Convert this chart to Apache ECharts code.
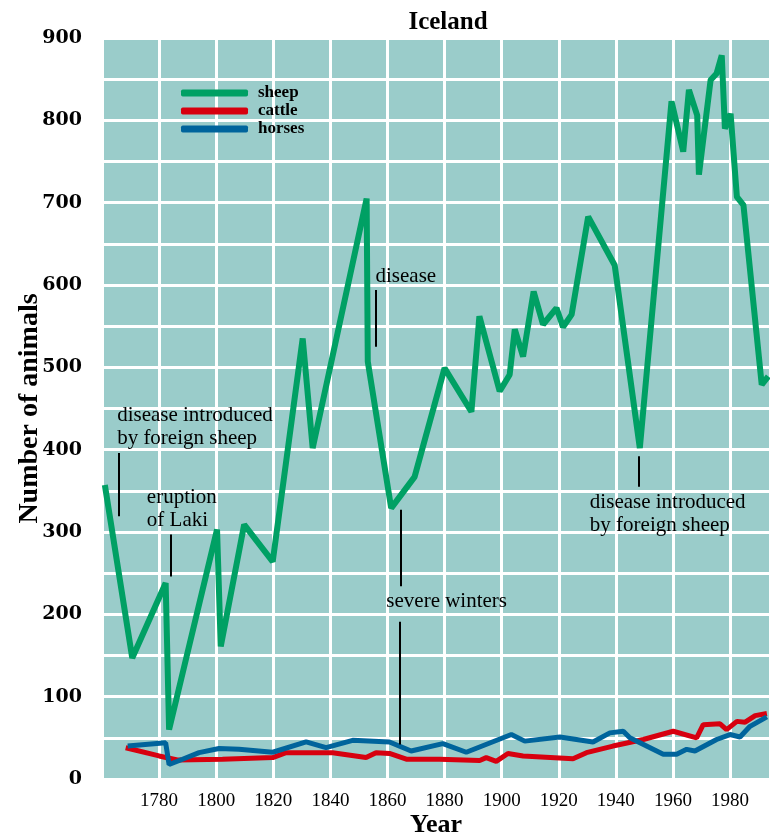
<!DOCTYPE html>
<html>
<head>
<meta charset="utf-8">
<script src="https://cdn.jsdelivr.net/npm/echarts@6/dist/echarts.min.js"></script>
<style>
  html, body { margin: 0; padding: 0; background: #fff; }
  #chart { width: 770px; height: 839px; }
</style>
</head>
<body>
<div id="chart"></div>
<script>
// sheep (thousands)
const sheepYears = [1761, 1770.6, 1782.3, 1783.5, 1800.3, 1801.6, 1809.8, 1819.8, 1830.3, 1833.8, 1852.7, 1853.1,
  1861.3, 1869.5, 1880, 1889.4, 1892.2, 1899.3, 1902.8, 1904.6, 1907.5, 1911.2, 1914.5, 1919.2, 1921.5, 1924.5,
  1930.3, 1939.6, 1948.4, 1959.5, 1963.6, 1965.6, 1968.5, 1969.1, 1973.2, 1975.3, 1977.1, 1978.2, 1980.2,
  1982.4, 1984.7, 1991.1, 1993.4]
const sheepValues = [357, 147, 238, 60, 303, 161, 309, 264, 535, 402, 705, 507,
  329, 367, 499, 446, 562, 471, 491, 546, 513, 592, 552, 572, 549, 564,
  683, 624, 402, 823, 762, 837, 806, 734, 849, 857, 879, 790, 808,
  707, 697, 479, 489]

// cattle
const cattleYears = [1768.3, 1780, 1786.4, 1802.2, 1819.8, 1824.5, 1840.8, 1852.5, 1856, 1860.7, 1866.6, 1878.2,
  1892.3, 1894.6, 1898.1, 1902.2, 1907.5, 1925, 1929.7, 1939, 1949.6, 1960.1, 1968.3, 1970.6, 1976.5,
  1978.8, 1982.4, 1985.3, 1988.8, 1992.9]
const cattleValues = [38, 28, 23, 24, 26, 32, 32, 26, 32, 31, 24, 24,
  22.5, 26, 21.5, 31, 28, 24.5, 32, 40, 48, 58, 50, 66, 67,
  60, 70, 69, 77, 79.5]

// horses
const horseYears = [1769, 1782.3, 1783.5, 1788.2, 1794, 1801, 1808, 1819.8, 1831.5, 1838.5, 1847.8, 1860.7,
  1868.3, 1879.4, 1887.6, 1903.4, 1908.1, 1920.4, 1932, 1937.9, 1942.6, 1944.9, 1956.6, 1961.3, 1964.8,
  1967.7, 1975.3, 1980, 1983.5, 1987, 1992.9]
const horseValues = [40, 44, 17.6, 24, 32, 37, 36, 32.5, 45, 38, 47, 45,
  34, 43, 32.5, 54, 46, 51, 45, 56, 58, 50, 30, 30, 36,
  34, 48, 54, 51, 64, 75.5]

// annotations: text block top-left in data coords
const noteTexts = ['disease introduced\nby foreign sheep', 'eruption\nof Laki', 'disease', 'severe winters', 'disease introduced\nby foreign sheep']
const noteYears = [1765.3, 1775.7, 1855.8, 1859.6, 1930.9]
const noteValues = [455, 356, 624, 230, 350]

// leader lines: [year, from, to]
const leaderYears = [1765.8, 1784.2, 1856, 1864.8, 1864.2, 1948.1]
const leaderFrom = [396, 297, 594, 327, 191, 392]
const leaderTo = [319, 246, 525, 234, 42, 355]

const pairs = (xs, ys) => xs.map((x, i) => [x, ys[i]])

const chart = echarts.init(document.getElementById('chart'))

const serif = '"Liberation Serif", "Times New Roman", serif'

const option = {
  animation: false,
  backgroundColor: '#fff',
  title: {
    text: 'Iceland',
    left: 443,
    textAlign: 'center',
    top: 5,
    textStyle: { fontFamily: serif, fontWeight: 'bold', fontSize: 25, color: '#000' }
  },
  legend: {
    orient: 'vertical',
    left: 176,
    top: 79,
    itemWidth: 67,
    itemHeight: 7,
    itemGap: 0,
    icon: 'roundRect',
    textStyle: { fontFamily: serif, fontWeight: 'bold', fontSize: 17, lineHeight: 18, color: '#000', padding: [0, 0, 0, 5] },
    data: ['sheep', 'cattle', 'horses']
  },
  grid: {
    left: 102,
    right: 0,
    top: 38,
    bottom: 60,
    outerBoundsMode: 'none',
    containLabel: false,
    show: true,
    backgroundColor: '#9accca',
    borderWidth: 0
  },
  xAxis: {
    type: 'value',
    min: 1760,
    max: 1994,
    interval: 20,
    name: 'Year',
    nameLocation: 'middle',
    nameGap: 33,
    nameMoveOverlap: false,
    nameTextStyle: { fontFamily: serif, fontWeight: 'bold', fontSize: 26, color: '#000' },
    axisLine: { show: false },
    axisTick: { show: false },
    axisLabel: {
      margin: 13,
      showMinLabel: false,
      showMaxLabel: false,
      fontFamily: serif,
      fontSize: 19,
      color: '#000',
      formatter: v => (v % 20 === 0 && v > 1760 ? String(v) : '')
    },
    splitLine: { show: true, lineStyle: { color: '#fff', width: 3 } }
  },
  yAxis: {
    type: 'value',
    min: 0,
    max: 900,
    interval: 50,
    name: 'Number of animals',
    nameLocation: 'middle',
    nameGap: 58,
    nameMoveOverlap: false,
    nameTextStyle: { fontFamily: serif, fontWeight: 'bold', fontSize: 28, color: '#000' },
    axisLine: { show: false },
    axisTick: { show: false },
    axisLabel: {
      margin: 20,
      fontFamily: '"DejaVu Serif", serif',
      fontWeight: 'bold',
      fontSize: 19,
      color: '#000',
      formatter: v => (v % 100 === 0 ? String(v) : '')
    },
    splitLine: { show: true, lineStyle: { color: '#fff', width: 3 } }
  },
  series: [
    {
      name: 'sheep',
      type: 'line',
      data: pairs(sheepYears, sheepValues),
      symbol: 'none',
      color: '#00a064',
      lineStyle: { width: 6, color: '#00a064' },
      z: 3,
      markLine: {
        silent: true,
        symbol: ['none', 'none'],
        label: { show: false },
        lineStyle: { color: '#000', width: 2, type: 'solid' },
        data: leaderYears.map((y, i) => [{ coord: [y, leaderFrom[i]] }, { coord: [y, leaderTo[i]] }])
      },
      markPoint: {
        silent: true,
        symbol: 'circle',
        symbolSize: 0,
        label: {
          show: true,
          position: [0, 0],
          align: 'left',
          verticalAlign: 'top',
          fontFamily: serif,
          fontSize: 21,
          lineHeight: 23,
          color: '#000',
          formatter: p => noteTexts[p.dataIndex]
        },
        data: noteYears.map((y, i) => ({ coord: [y, noteValues[i]] }))
      }
    },
    {
      name: 'cattle',
      type: 'line',
      data: pairs(cattleYears, cattleValues),
      symbol: 'none',
      color: '#d7000f',
      lineStyle: { width: 5, color: '#d7000f' },
      z: 2
    },
    {
      name: 'horses',
      type: 'line',
      data: pairs(horseYears, horseValues),
      symbol: 'none',
      color: '#00649c',
      lineStyle: { width: 5, color: '#00649c' },
      z: 2
    }
  ]
}

chart.setOption(option)
</script>
</body>
</html>
